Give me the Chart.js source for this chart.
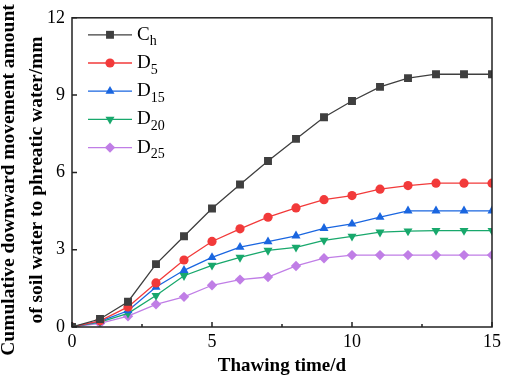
<!DOCTYPE html>
<html>
<head>
<meta charset="utf-8">
<script src="https://cdn.jsdelivr.net/npm/chart.js@4"></script>
<style>
  html, body { margin: 0; padding: 0; background: #fff; }
  #wrap { width: 505px; height: 377px; }
</style>
</head>
<body>
<div id="wrap"><canvas id="chart" width="505" height="377"></canvas></div>
<script>
// thawing days
const days = [0, 1, 2, 3, 4, 5, 6, 7, 8, 9, 10, 11, 12, 13, 14, 15];

// cumulative downward movement (mm)
const ch  = [0, 0.31, 0.98, 2.44, 3.52, 4.60, 5.53, 6.44, 7.30, 8.14, 8.77, 9.32, 9.66, 9.81, 9.81, 9.81];
const d5  = [0, 0.24, 0.78, 1.71, 2.60, 3.32, 3.81, 4.26, 4.62, 4.94, 5.10, 5.35, 5.49, 5.58, 5.58, 5.58];
const d15 = [0, 0.22, 0.63, 1.55, 2.20, 2.70, 3.10, 3.31, 3.54, 3.83, 4.00, 4.26, 4.51, 4.51, 4.51, 4.51];
const d20 = [0, 0.19, 0.53, 1.22, 1.99, 2.39, 2.70, 2.97, 3.09, 3.36, 3.52, 3.68, 3.72, 3.74, 3.74, 3.74];
const d25 = [0, 0.14, 0.42, 0.88, 1.17, 1.62, 1.84, 1.94, 2.37, 2.67, 2.79, 2.79, 2.79, 2.79, 2.79, 2.79];

// legend names: base letter + subscript
const seriesMain = ['C', 'D', 'D', 'D', 'D'];
const seriesSub = ['h', '5', '15', '20', '25'];

const xTicks = [0, 5, 10, 15];
const xMinorTicks = [2.5, 7.5, 12.5];
const yTicks = [0, 3, 6, 9, 12];
const yTitle = ['Cumulative downward movement amount', 'of soil water to phreatic water/mm'];

const FONT = "'Liberation Serif', 'Times New Roman', serif";

function pts(arr) {
    return days.map((d, i) => ({ x: d, y: arr[i] }));
}

function makeSet(label, arr, color, style, radius, rot) {
    return {
        label: label,
        data: pts(arr),
        borderColor: color,
        backgroundColor: color,
        borderWidth: 1.3,
        pointStyle: style,
        pointRadius: radius,
        pointRotation: rot || 0,
        pointBorderWidth: 0,
        tension: 0
    };
}

// frame + inward tick marks
const framePlugin = {
    id: 'frame',
    afterDraw(chart) {
        const ctx = chart.ctx;
        const a = chart.chartArea;
        const xs = chart.scales.x, ys = chart.scales.y;
        ctx.save();
        ctx.strokeStyle = '#222';
        ctx.lineWidth = 1.5;
        ctx.strokeRect(a.left, a.top, a.right - a.left, a.bottom - a.top);
        ctx.beginPath();
        xTicks.forEach(v => {
            const px = xs.getPixelForValue(v);
            ctx.moveTo(px, a.bottom);
            ctx.lineTo(px, a.bottom - 5);
        });
        xMinorTicks.forEach(v => {
            const px = xs.getPixelForValue(v);
            ctx.moveTo(px, a.bottom);
            ctx.lineTo(px, a.bottom - 3);
        });
        yTicks.forEach(v => {
            const py = ys.getPixelForValue(v);
            ctx.moveTo(a.left, py);
            ctx.lineTo(a.left + 5, py);
        });
        ctx.stroke();

        // two-line y title, sits a bit below the plot centre like the original
        ctx.translate(0, 180);
        ctx.rotate(-Math.PI / 2);
        ctx.fillStyle = '#000';
        ctx.font = 'bold 19.5px ' + FONT;
        ctx.textAlign = 'center';
        ctx.textBaseline = 'middle';
        ctx.fillText(yTitle[0], 0, 9);
        ctx.fillText(yTitle[1], 0, 36.5);
        ctx.restore();
    }
};

// legend with line + marker and subscripted names
const legendPlugin = {
    id: 'subLegend',
    afterDraw(chart) {
        const ctx = chart.ctx;
        const a = chart.chartArea;
        const x0 = a.left + 16, x1 = a.left + 60, xm = a.left + 38;
        chart.data.datasets.forEach((ds, i) => {
            const y = a.top + 17 + i * 28.2;
            ctx.save();
            ctx.strokeStyle = ds.borderColor;
            ctx.lineWidth = 1.3;
            ctx.beginPath();
            ctx.moveTo(x0, y);
            ctx.lineTo(x1, y);
            ctx.stroke();
            ctx.fillStyle = ds.backgroundColor;
            Chart.helpers.drawPoint(ctx, {
                pointStyle: ds.pointStyle,
                radius: ds.pointRadius,
                rotation: ds.pointRotation,
                borderWidth: 0
            }, xm, y);
            ctx.fillStyle = '#000';
            ctx.textBaseline = 'middle';
            ctx.font = '19px ' + FONT;
            ctx.fillText(seriesMain[i], a.left + 65, y);
            const w = ctx.measureText(seriesMain[i]).width;
            ctx.font = '14px ' + FONT;
            ctx.fillText(seriesSub[i], a.left + 65 + w, y + 7);
            ctx.restore();
        });
    }
};

new Chart(document.getElementById('chart'), {
    type: 'line',
    data: {
        datasets: [
            makeSet('Ch', ch, '#3f3f3f', 'rect', 5.6),
            makeSet('D5', d5, '#f23a3a', 'circle', 4.6),
            makeSet('D15', d15, '#1a66e0', 'triangle', 5.2),
            makeSet('D20', d20, '#18a86c', 'triangle', 5.2, 180),
            makeSet('D25', d25, '#c07ee6', 'rectRot', 5.2)
        ]
    },
    options: {
        responsive: false,
        animation: false,
        layout: { padding: { top: 16, right: 10, left: 0, bottom: 0 } },
        plugins: {
            legend: { display: false },
            tooltip: { enabled: false }
        },
        scales: {
            x: {
                type: 'linear',
                min: 0,
                max: 15,
                grid: { display: false, drawTicks: false },
                border: { display: false },
                afterFit: s => { s.height = 50; },
                ticks: {
                    stepSize: 5,
                    padding: 4,
                    color: '#000',
                    font: { family: FONT, size: 18 }
                },
                title: {
                    display: true,
                    text: 'Thawing time/d',
                    color: '#000',
                    padding: { top: 0, bottom: 0 },
                    font: { family: FONT, size: 19, weight: 'bold' }
                }
            },
            y: {
                min: 0,
                max: 12,
                grid: { display: false, drawTicks: false },
                border: { display: false },
                afterFit: s => { s.width = 72; },
                ticks: {
                    stepSize: 3,
                    padding: 7,
                    color: '#000',
                    font: { family: FONT, size: 18 }
                }
            }
        }
    },
    plugins: [framePlugin, legendPlugin]
});
</script>
</body>
</html>
